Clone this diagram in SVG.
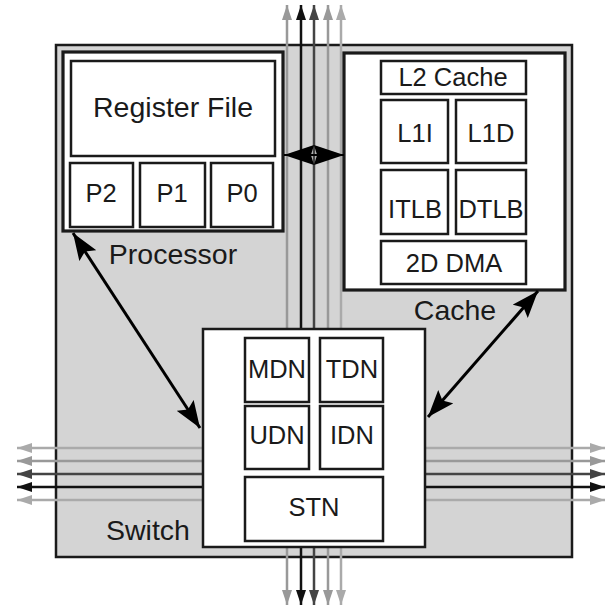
<svg xmlns="http://www.w3.org/2000/svg" width="606" height="609" viewBox="0 0 606 609">
<style>
.box{fill:#fff;stroke:#1a1a1a;stroke-width:2.5}
.big{fill:#fff;stroke:#1a1a1a;stroke-width:3.2}
.t{font-family:"Liberation Sans",Arial,sans-serif;fill:#1a1a1a;text-anchor:middle}
.s{font-size:25.5px}
.l{font-size:28.5px}
.ln{fill:none;stroke-width:2.5}
</style>
<defs>
<marker id="m1" markerUnits="userSpaceOnUse" viewBox="0 0 15 10" refX="15" refY="5" markerWidth="15" markerHeight="10" orient="auto-start-reverse"><path d="M0,0L15,5L0,10z" fill="#111"/></marker>
<marker id="m4" markerUnits="userSpaceOnUse" viewBox="0 0 15 10" refX="15" refY="5" markerWidth="15" markerHeight="10" orient="auto-start-reverse"><path d="M0,0L15,5L0,10z" fill="#444"/></marker>
<marker id="m9" markerUnits="userSpaceOnUse" viewBox="0 0 15 10" refX="15" refY="5" markerWidth="15" markerHeight="10" orient="auto-start-reverse"><path d="M0,0L15,5L0,10z" fill="#999"/></marker>
<marker id="ma" markerUnits="userSpaceOnUse" viewBox="0 0 15 10" refX="15" refY="5" markerWidth="15" markerHeight="10" orient="auto-start-reverse"><path d="M0,0L15,5L0,10z" fill="#aaa"/></marker>
<marker id="big" markerUnits="userSpaceOnUse" viewBox="0 0 27 20" refX="27" refY="10" markerWidth="27" markerHeight="20" orient="auto-start-reverse"><path d="M0,0L27,10L0,20L5,10z" fill="#000"/></marker>
<marker id="mid" markerUnits="userSpaceOnUse" viewBox="0 0 30 20" refX="30" refY="10" markerWidth="30" markerHeight="20" orient="auto-start-reverse"><path d="M0,0L30,10L0,20L3,10z" fill="#000"/></marker>
</defs>
<rect id="tile" x="56" y="45" width="516" height="512" fill="#d4d4d4" stroke="#1a1a1a" stroke-width="2.5"/>
<g id="links">
<line class="ln" x1="287" y1="5" x2="287" y2="605" stroke="#999" marker-start="url(#m9)" marker-end="url(#m9)"/>
<line class="ln" x1="301" y1="5" x2="301" y2="605" stroke="#111" marker-start="url(#m1)" marker-end="url(#m1)"/>
<line class="ln" x1="314" y1="5" x2="314" y2="605" stroke="#444" marker-start="url(#m4)" marker-end="url(#m4)"/>
<line class="ln" x1="328" y1="5" x2="328" y2="605" stroke="#999" marker-start="url(#m9)" marker-end="url(#m9)"/>
<line class="ln" x1="341" y1="5" x2="341" y2="605" stroke="#aaa" marker-start="url(#ma)" marker-end="url(#ma)"/>
<line class="ln" x1="17" y1="448" x2="605" y2="448" stroke="#aaa" marker-start="url(#ma)" marker-end="url(#ma)"/>
<line class="ln" x1="17" y1="461" x2="605" y2="461" stroke="#999" marker-start="url(#m9)" marker-end="url(#m9)"/>
<line class="ln" x1="17" y1="474" x2="605" y2="474" stroke="#444" marker-start="url(#m4)" marker-end="url(#m4)"/>
<line class="ln" x1="17" y1="487" x2="605" y2="487" stroke="#111" marker-start="url(#m1)" marker-end="url(#m1)"/>
<line class="ln" x1="17" y1="500" x2="605" y2="500" stroke="#aaa" marker-start="url(#ma)" marker-end="url(#ma)"/>
</g>
<g id="processor">
<rect class="big" x="63" y="52" width="220" height="179"/>
<rect class="box" x="71" y="61" width="204" height="95"/>
<text class="t l" x="173" y="117">Register File</text>
<rect class="box" x="70" y="163" width="63" height="64"/>
<text class="t s" x="101" y="202">P2</text>
<rect class="box" x="140" y="163" width="65" height="64"/>
<text class="t s" x="172" y="202">P1</text>
<rect class="box" x="211" y="163" width="62" height="64"/>
<text class="t s" x="242" y="202">P0</text>
<text class="t l" x="173" y="264">Processor</text>
</g>
<g id="cache">
<rect class="big" x="344" y="53" width="221" height="237"/>
<rect class="box" x="381" y="61" width="145" height="33"/>
<text class="t s" x="453" y="86">L2 Cache</text>
<rect class="box" x="381" y="100" width="67" height="63"/>
<text class="t s" x="415" y="142">L1I</text>
<rect class="box" x="456" y="100" width="70" height="63"/>
<text class="t s" x="491" y="142">L1D</text>
<rect class="box" x="381" y="170" width="67" height="64"/>
<text class="t s" x="415" y="218">ITLB</text>
<rect class="box" x="456" y="170" width="70" height="64"/>
<text class="t s" x="491" y="218">DTLB</text>
<rect class="box" x="381" y="241" width="145" height="43"/>
<text class="t s" x="454" y="272">2D DMA</text>
<text class="t l" x="455" y="320">Cache</text>
</g>
<g id="switch">
<rect class="box" x="203" y="329" width="222" height="218"/>
<rect class="box" x="245" y="338" width="64" height="64"/>
<text class="t s" x="277" y="378">MDN</text>
<rect class="box" x="320" y="338" width="63" height="64"/>
<text class="t s" x="352" y="378">TDN</text>
<rect class="box" x="245" y="406" width="64" height="63"/>
<text class="t s" x="277" y="444">UDN</text>
<rect class="box" x="320" y="406" width="63" height="63"/>
<text class="t s" x="352" y="444">IDN</text>
<rect class="box" x="245" y="477" width="138" height="64"/>
<text class="t s" x="314" y="516">STN</text>
<text class="t l" x="148" y="540">Switch</text>
</g>
<g id="connectors">
<line x1="284" y1="155" x2="344" y2="155" stroke="#000" stroke-width="2" marker-start="url(#mid)" marker-end="url(#mid)"/>
<line x1="73" y1="233" x2="200" y2="428" stroke="#000" stroke-width="3" marker-start="url(#big)" marker-end="url(#big)"/>
<line x1="538" y1="291" x2="428" y2="417" stroke="#000" stroke-width="3" marker-start="url(#big)" marker-end="url(#big)"/>
</g>
</svg>
